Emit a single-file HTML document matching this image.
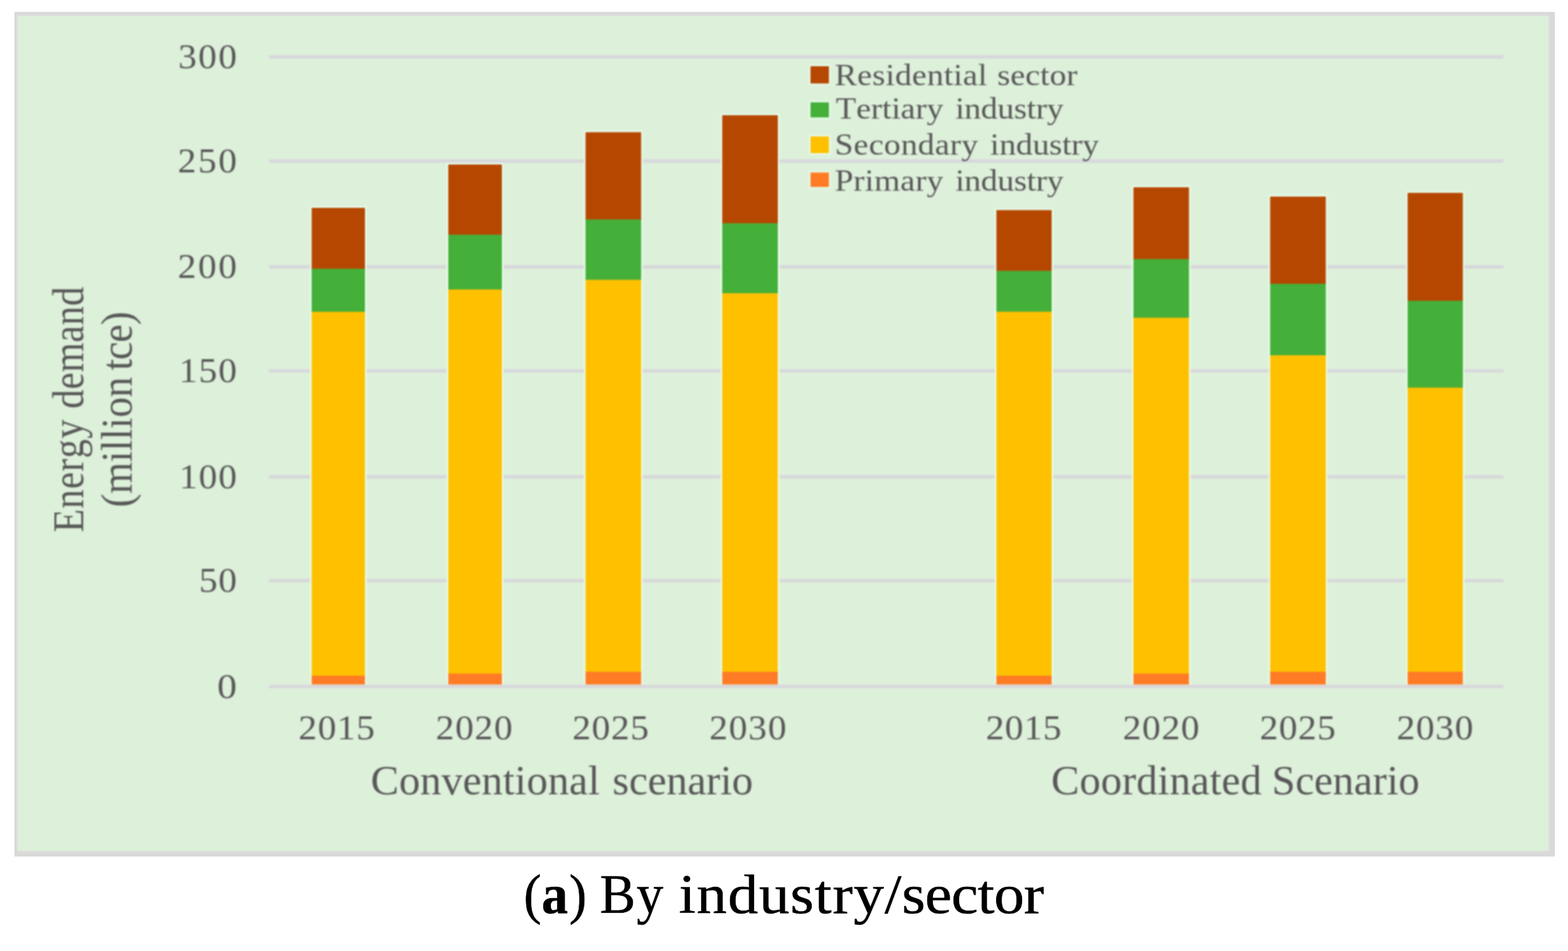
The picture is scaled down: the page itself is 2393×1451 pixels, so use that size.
<!DOCTYPE html>
<html lang="en">
<head>
<meta charset="utf-8">
<title>Energy demand by industry/sector</title>
<style>
html,body{margin:0;padding:0;background:#fff;}
body{width:2393px;height:1451px;overflow:hidden;}
svg{display:block;}
svg text{font-family:"Liberation Serif","DejaVu Serif",serif;font-kerning:none;font-variant-ligatures:none;white-space:pre;}
</style>
</head>
<body>
<svg width="2393" height="1451" viewBox="0 0 2393 1451" role="img" aria-label="Energy demand by industry/sector">
<rect x="22.1" y="18.2" width="2350.8" height="1288.6" fill="#d9d9d9"/>
<g id="chart" style="filter:blur(0.9px)">
<rect x="26.4" y="23.9" width="2337.3" height="1274.9" fill="#ddf0da"/>
<rect x="410.6" y="1044.80" width="1883.9" height="5.2" fill="#d8d8db"/>
<rect x="410.6" y="883.40" width="1883.9" height="5.2" fill="#d8d8db"/>
<rect x="410.6" y="724.90" width="1883.9" height="5.2" fill="#d8d8db"/>
<rect x="410.6" y="563.30" width="1883.9" height="5.2" fill="#d8d8db"/>
<rect x="410.6" y="404.60" width="1883.9" height="5.2" fill="#d8d8db"/>
<rect x="410.6" y="243.20" width="1883.9" height="5.2" fill="#d8d8db"/>
<rect x="410.6" y="84.20" width="1883.9" height="5.2" fill="#d8d8db"/>
<rect x="473.2" y="314.7" width="86.2" height="729.7" fill="#e8fdec"/>
<rect x="681.7" y="248.6" width="86.7" height="795.8" fill="#e8fdec"/>
<rect x="891.2" y="199.3" width="89.7" height="845.1" fill="#e8fdec"/>
<rect x="1099.8" y="173.4" width="89.7" height="871.0" fill="#e8fdec"/>
<rect x="1518.2" y="318.1" width="89.2" height="726.3" fill="#e8fdec"/>
<rect x="1727.4" y="283.3" width="89.6" height="761.1" fill="#e8fdec"/>
<rect x="1936.0" y="297.5" width="89.8" height="746.9" fill="#e8fdec"/>
<rect x="2145.8" y="291.8" width="89.2" height="752.6" fill="#e8fdec"/>
<rect x="475.6" y="317.1" width="81.4" height="93.4" fill="#b64700"/>
<rect x="475.6" y="410.0" width="81.4" height="66.2" fill="#44af39"/>
<rect x="475.6" y="475.7" width="81.4" height="555.8" fill="#ffc000"/>
<rect x="475.6" y="1031.0" width="81.4" height="13.4" fill="#ff7b25"/>
<rect x="684.1" y="251.0" width="81.9" height="107.6" fill="#b64700"/>
<rect x="684.1" y="358.1" width="81.9" height="84.1" fill="#44af39"/>
<rect x="684.1" y="441.7" width="81.9" height="586.6" fill="#ffc000"/>
<rect x="684.1" y="1027.8" width="81.9" height="16.6" fill="#ff7b25"/>
<rect x="893.6" y="201.7" width="84.9" height="133.6" fill="#b64700"/>
<rect x="893.6" y="334.8" width="84.9" height="92.6" fill="#44af39"/>
<rect x="893.6" y="426.9" width="84.9" height="598.6" fill="#ffc000"/>
<rect x="893.6" y="1025.0" width="84.9" height="19.4" fill="#ff7b25"/>
<rect x="1102.2" y="175.8" width="84.9" height="165.3" fill="#b64700"/>
<rect x="1102.2" y="340.6" width="84.9" height="107.3" fill="#44af39"/>
<rect x="1102.2" y="447.4" width="84.9" height="578.1" fill="#ffc000"/>
<rect x="1102.2" y="1025.0" width="84.9" height="19.4" fill="#ff7b25"/>
<rect x="1520.6" y="320.5" width="84.4" height="93.3" fill="#b64700"/>
<rect x="1520.6" y="413.3" width="84.4" height="62.8" fill="#44af39"/>
<rect x="1520.6" y="475.6" width="84.4" height="555.9" fill="#ffc000"/>
<rect x="1520.6" y="1031.0" width="84.4" height="13.4" fill="#ff7b25"/>
<rect x="1729.8" y="285.7" width="84.8" height="110.2" fill="#b64700"/>
<rect x="1729.8" y="395.4" width="84.8" height="89.9" fill="#44af39"/>
<rect x="1729.8" y="484.8" width="84.8" height="543.5" fill="#ffc000"/>
<rect x="1729.8" y="1027.8" width="84.8" height="16.6" fill="#ff7b25"/>
<rect x="1938.4" y="299.9" width="85.0" height="133.6" fill="#b64700"/>
<rect x="1938.4" y="433.0" width="85.0" height="109.6" fill="#44af39"/>
<rect x="1938.4" y="542.1" width="85.0" height="483.4" fill="#ffc000"/>
<rect x="1938.4" y="1025.0" width="85.0" height="19.4" fill="#ff7b25"/>
<rect x="2148.2" y="294.2" width="84.4" height="165.2" fill="#b64700"/>
<rect x="2148.2" y="458.9" width="84.4" height="133.1" fill="#44af39"/>
<rect x="2148.2" y="591.5" width="84.4" height="434.0" fill="#ffc000"/>
<rect x="2148.2" y="1025.0" width="84.4" height="19.4" fill="#ff7b25"/>
<text transform="translate(0 1064.60) scale(1.1569 1)" font-size="51.80" fill="#585858"><tspan x="286.63" letter-spacing="0.000">0</tspan></text>
<text transform="translate(0 903.20) scale(1.0900 1)" font-size="51.80" fill="#585858"><tspan x="278.64" letter-spacing="1.164">50</tspan></text>
<text transform="translate(0 744.70) scale(1.0900 1)" font-size="51.80" fill="#585858"><tspan x="250.95" letter-spacing="1.477">100</tspan></text>
<text transform="translate(0 583.10) scale(1.0900 1)" font-size="51.80" fill="#585858"><tspan x="250.77" letter-spacing="1.569">150</tspan></text>
<text transform="translate(0 424.40) scale(1.0900 1)" font-size="51.80" fill="#585858"><tspan x="248.92" letter-spacing="2.495">200</tspan></text>
<text transform="translate(0 263.00) scale(1.0900 1)" font-size="51.80" fill="#585858"><tspan x="248.92" letter-spacing="2.495">250</tspan></text>
<text transform="translate(0 104.00) scale(1.0900 1)" font-size="51.80" fill="#585858"><tspan x="249.45" letter-spacing="2.229">300</tspan></text>
<text transform="translate(0 1128.00) scale(1.0900 1)" font-size="51.80" fill="#585858"><tspan x="417.91" letter-spacing="1.059">2015</tspan></text>
<text transform="translate(0 1128.00) scale(1.0900 1)" font-size="51.80" fill="#585858"><tspan x="610.20" letter-spacing="1.256">2020</tspan></text>
<text transform="translate(0 1128.00) scale(1.0900 1)" font-size="51.80" fill="#585858"><tspan x="801.30" letter-spacing="1.181">2025</tspan></text>
<text transform="translate(0 1128.00) scale(1.0900 1)" font-size="51.80" fill="#585858"><tspan x="993.04" letter-spacing="1.470">2030</tspan></text>
<text transform="translate(0 1128.00) scale(1.0900 1)" font-size="51.80" fill="#585858"><tspan x="1380.29" letter-spacing="0.784">2015</tspan></text>
<text transform="translate(0 1128.00) scale(1.0900 1)" font-size="51.80" fill="#585858"><tspan x="1572.04" letter-spacing="1.256">2020</tspan></text>
<text transform="translate(0 1128.00) scale(1.0900 1)" font-size="51.80" fill="#585858"><tspan x="1763.78" letter-spacing="0.967">2025</tspan></text>
<text transform="translate(0 1128.00) scale(1.0900 1)" font-size="51.80" fill="#585858"><tspan x="1955.43" letter-spacing="1.256">2030</tspan></text>
<text transform="translate(0 1212.40) scale(1.0200 1)" font-size="63.20" fill="#585858"><tspan x="554.66" letter-spacing="0.204">Conventional </tspan><tspan x="916.53" letter-spacing="-0.051">scenario</tspan></text>
<text transform="translate(0 1212.40) scale(1.0200 1)" font-size="63.20" fill="#585858"><tspan x="1572.90" letter-spacing="0.241">Coordinated </tspan><tspan x="1903.03" letter-spacing="-0.009">Scenario</tspan></text>
<text transform="translate(126.60 0) rotate(-90) scale(0.8700 1)" font-size="67.00" fill="#585858"><tspan x="-933.77" letter-spacing="0.893">Energy </tspan><tspan x="-716.67" letter-spacing="0.299">demand</tspan></text>
<text transform="translate(201.10 0) rotate(-90) scale(0.9300 1)" font-size="67.00" fill="#585858"><tspan x="-832.30" letter-spacing="-0.275">(million </tspan><tspan x="-607.54" letter-spacing="-1.300">tce)</tspan></text>
<rect x="1234.7" y="98.8" width="32.6" height="30.8" fill="#e8fdec"/>
<rect x="1236.9" y="101.0" width="28.2" height="26.4" fill="#b64700"/>
<text transform="translate(0 129.70) scale(1.0900 1)" font-size="46.60" fill="#585858"><tspan x="1168.84" letter-spacing="0.372">Residential </tspan><tspan x="1396.44" letter-spacing="0.193">sector</tspan></text>
<rect x="1234.7" y="153.9" width="32.6" height="27.5" fill="#e8fdec"/>
<rect x="1236.9" y="156.1" width="28.2" height="23.1" fill="#44af39"/>
<text transform="translate(0 181.30) scale(1.0900 1)" font-size="46.60" fill="#585858"><tspan x="1170.26" letter-spacing="0.059">Tertiary </tspan><tspan x="1337.55" letter-spacing="-0.174">industry</tspan></text>
<rect x="1234.7" y="205.9" width="32.6" height="30.0" fill="#e8fdec"/>
<rect x="1236.9" y="208.1" width="28.2" height="25.6" fill="#ffc000"/>
<text transform="translate(0 235.70) scale(1.0900 1)" font-size="46.60" fill="#585858"><tspan x="1168.90" letter-spacing="0.483">Secondary </tspan><tspan x="1386.36" letter-spacing="-0.043">industry</tspan></text>
<rect x="1234.7" y="261.0" width="32.6" height="26.5" fill="#e8fdec"/>
<rect x="1236.9" y="263.2" width="28.2" height="22.1" fill="#ff7b25"/>
<text transform="translate(0 291.30) scale(1.0900 1)" font-size="46.60" fill="#585858"><tspan x="1168.84" letter-spacing="0.294">Primary </tspan><tspan x="1337.55" letter-spacing="-0.174">industry</tspan></text>
</g>
<g id="caption">
<g stroke="#000" stroke-width="0.6" stroke-linejoin="round">
<text transform="translate(0 1392.60) scale(0.9500 1)" font-size="85.00" fill="#000"><tspan x="841.32" letter-spacing="0.000">(</tspan><tspan x="870.00" letter-spacing="0.000" font-weight="bold">a</tspan><tspan x="914.10" letter-spacing="0.000">) </tspan></text>
<text transform="translate(0 1392.60) scale(0.9600 1)" font-size="85.00" fill="#000"><tspan x="953.70" letter-spacing="1.711">By </tspan></text>
<text transform="translate(0 1392.60) scale(1.0900 1)" font-size="85.00" fill="#000"><tspan x="950.42" letter-spacing="1.260">industry</tspan><tspan x="1238.62" letter-spacing="0.000">/</tspan><tspan x="1262.57" letter-spacing="-0.717">sector</tspan></text>
</g>
</g>
</svg>
</body>
</html>
